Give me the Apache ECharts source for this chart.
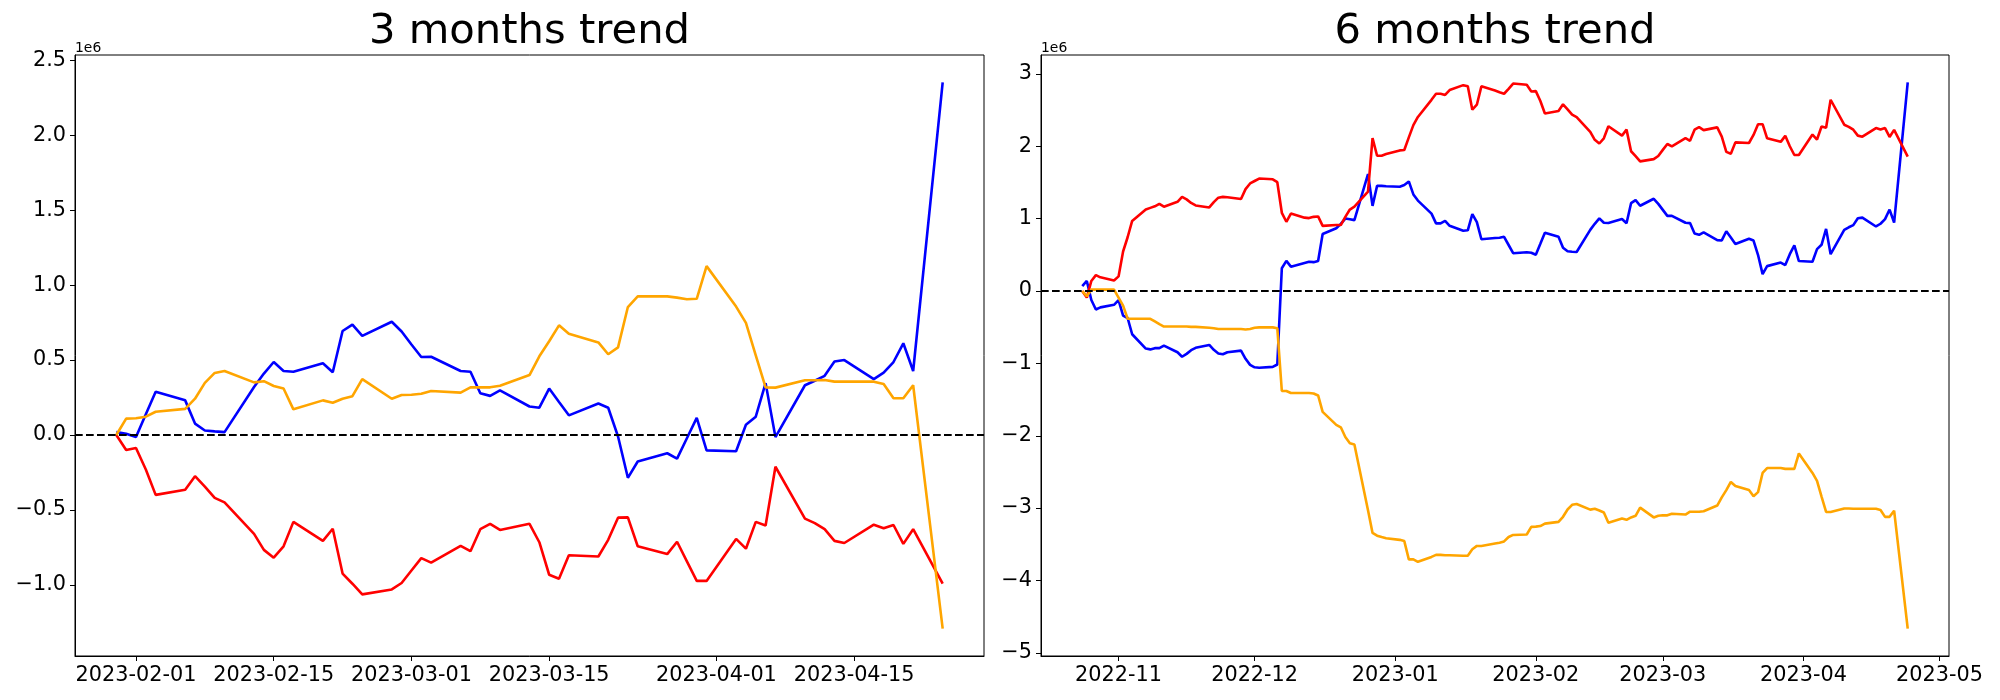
<!DOCTYPE html>
<html>
<head>
<meta charset="utf-8">
<script src="https://cdn.jsdelivr.net/npm/echarts@6/dist/echarts.min.js"></script>
<style>
html,body{margin:0;padding:0;background:#fff;}
#chart{width:2000px;height:700px;}
</style>
</head>
<body>
<div id="chart"></div>
<script>
// ---------------- DATA (values in units of 1e6) ----------------
const titles = ['3 months trend', '6 months trend'];
const range3m = ['2023-01-30', '2023-04-24'];   // business days
const range6m = ['2022-10-24', '2023-04-24'];   // business days

const blue3m = [0.019,0.008,-0.014,0.139,0.288, 0.231,0.076,0.030,0.024,0.019,
  0.32,0.41,0.487,0.427,0.422, 0.479,0.419,0.694,0.737,0.661,
  0.756,0.691,0.604,0.52,0.522, 0.427,0.422,0.278,0.261,0.297,
  0.19,0.182,0.31,0.22,0.131, 0.21,0.182,-0.01,-0.286,-0.177,
  -0.122,-0.158,-0.022,0.114,-0.103, -0.109,0.068,0.122,0.346,-0.014,
  0.332,0.362,0.395,0.49,0.50, 0.373,0.416,0.487,0.612,0.427,
  2.354];
const red3m = [0,-0.10,-0.087,-0.23,-0.40, -0.365,-0.275,-0.345,-0.42,-0.45,
  -0.66,-0.767,-0.819,-0.743,-0.58, -0.707,-0.626,-0.925,-0.993,-1.064,
  -1.031,-0.988,-0.905,-0.822,-0.852, -0.74,-0.776,-0.629,-0.593,-0.634,
  -0.593,-0.716,-0.933,-0.96,-0.803, -0.811,-0.70,-0.552,-0.55,-0.743,
  -0.795,-0.713,-0.844,-0.974,-0.974, -0.694,-0.759,-0.58,-0.604,-0.212,
  -0.558,-0.588,-0.629,-0.707,-0.721, -0.599,-0.623,-0.601,-0.727,-0.629,
  -0.993];
const orange3m = [0,0.109,0.112,0.122,0.155, 0.174,0.242,0.348,0.414,0.427,
  0.351,0.359,0.327,0.31,0.171, 0.231,0.215,0.242,0.259,0.373,
  0.242,0.267,0.269,0.275,0.294, 0.283,0.318,0.318,0.318,0.329,
  0.40,0.525,0.626,0.732,0.675, 0.618,0.539,0.585,0.854,0.925,
  0.925,0.917,0.906,0.909,1.127, 0.857,0.748,0.531,0.318,0.316,
  0.365,0.365,0.367,0.356,0.356, 0.356,0.34,0.245,0.245,0.332,
  -1.293];

const blue6m = [0.068,0.14,-0.124,-0.254,-0.225, -0.19,-0.124,-0.338,-0.372,-0.597,
  -0.795,-0.806,-0.789,-0.789,-0.755, -0.846,-0.908,-0.868,-0.817,-0.784,
  -0.744,-0.812,-0.862,-0.874,-0.846, -0.823,-0.936,-1.02,-1.054,-1.06,
  -1.048,-1.015,0.316,0.417,0.338, 0.389,0.406,0.40,0.417,0.789,
  0.868,0.93,1.003,0.992,0.981, 1.618,1.178,1.454,1.454,1.449,
  1.443,1.466,1.516,1.336,1.251, 1.071,0.936,0.936,0.97,0.902,
  0.834,0.84,1.065,0.953,0.716, 0.733,0.738,0.75,0.637,0.524,
  0.536,0.53,0.503,0.655,0.808, 0.75,0.598,0.55,0.544,0.54,
  0.846,0.93,1.006,0.945,0.942, 0.996,0.938,1.215,1.258,1.18,
  1.276,1.206,1.123,1.04,1.04, 0.945,0.94,0.795,0.778,0.812,
  0.705,0.70,0.827,0.74,0.65, 0.724,0.699,0.498,0.234,0.345,
  0.395,0.36,0.51,0.631,0.415, 0.406,0.58,0.64,0.86,0.51,
  0.847,0.882,0.912,1.008,1.015, 0.893,0.931,0.995,1.127,0.948,
  2.886];
const red6m = [0,-0.09,0.14,0.22,0.19, 0.147,0.203,0.547,0.744,0.97,
  1.127,1.15,1.172,1.206,1.167, 1.234,1.302,1.268,1.218,1.184,
  1.156,1.229,1.291,1.302,1.297, 1.274,1.409,1.488,1.522,1.556,
  1.545,1.505,1.082,0.958,1.071, 1.015,1.009,1.026,1.032,0.902,
  0.913,0.913,1.026,1.127,1.167, 1.375,2.114,1.871,1.871,1.894,
  1.945,1.95,2.125,2.294,2.407, 2.644,2.728,2.728,2.711,2.779,
  2.847,2.83,2.508,2.576,2.83, 2.773,2.75,2.728,2.796,2.869,
  2.852,2.76,2.764,2.627,2.455, 2.49,2.582,2.513,2.439,2.405,
  2.201,2.091,2.04,2.112,2.278, 2.149,2.232,1.933,1.865,1.793,
  1.824,1.868,1.952,2.033,2.0, 2.113,2.078,2.231,2.266,2.225,
  2.263,2.136,1.924,1.899,2.056, 2.047,2.159,2.306,2.307,2.112,
  2.063,2.146,2.002,1.881,1.881, 2.164,2.095,2.275,2.257,2.645,
  2.30,2.271,2.231,2.149,2.134, 2.254,2.234,2.253,2.131,2.228,
  1.86];
const orange6m = [0,-0.07,0.02,0.02,0.02, 0.02,-0.09,-0.2,-0.383,-0.383,
  -0.383,-0.383,-0.42,-0.457,-0.49, -0.49,-0.49,-0.49,-0.495,-0.495,
  -0.507,-0.513,-0.524,-0.524,-0.524, -0.524,-0.53,-0.524,-0.507,-0.502,
  -0.502,-0.513,-1.381,-1.381,-1.409, -1.409,-1.409,-1.415,-1.443,-1.669,
  -1.849,-1.883,-2.018,-2.103,-2.12, -3.03,-3.343,-3.382,-3.40,-3.416,
  -3.439,-3.456,-3.709,-3.709,-3.743, -3.675,-3.647,-3.647,-3.652,-3.652,
  -3.658,-3.658,-3.568,-3.523,-3.523, -3.489,-3.478,-3.461,-3.40,-3.371,
  -3.365,-3.26,-3.256,-3.248,-3.215, -3.19,-3.12,-3.019,-2.955,-2.943,
  -3.021,-3.01,-3.033,-3.061,-3.202, -3.145,-3.162,-3.129,-3.106,-2.993,
  -3.129,-3.106,-3.10,-3.10,-3.078, -3.089,-3.05,-3.05,-3.05,-3.044,
  -2.965,-2.852,-2.751,-2.638,-2.694, -2.751,-2.835,-2.779,-2.514,-2.446,
  -2.446,-2.458,-2.458,-2.458,-2.244, -2.514,-2.623,-2.84,-3.053,-3.055,
  -3.005,-3.005,-3.01,-3.01,-3.01, -3.01,-3.026,-3.121,-3.121,-3.036,
  -4.667];

const xTicks3m = ['2023-02-01','2023-02-15','2023-03-01','2023-03-15','2023-04-01','2023-04-15'];
const xTicks6m = ['2022-11-01','2022-12-01','2023-01-01','2023-02-01','2023-03-01','2023-04-01','2023-05-01'];
const yTicks3m = [-1.0,-0.5,0,0.5,1.0,1.5,2.0,2.5];
const yTicks6m = [-5,-4,-3,-2,-1,0,1,2,3];
const offsetLabel = '1e6';

// ---------------- helpers ----------------
const DAY = 86400000;
function businessDays(a, b) {
  const out = []; let t = Date.parse(a); const e = Date.parse(b);
  while (t <= e) { const w = new Date(t).getUTCDay(); if (w > 0 && w < 6) out.push(t); t += DAY; }
  return out;
}
const dates3m = businessDays(range3m[0], range3m[1]);
const dates6m = businessDays(range6m[0], range6m[1]);
const pad = n => (n < 10 ? '0' : '') + n;
const fmtDay = v => { const d = new Date(v); return d.getUTCFullYear() + '-' + pad(d.getUTCMonth() + 1) + '-' + pad(d.getUTCDate()); };
const fmtMonth = v => { const d = new Date(v); return d.getUTCFullYear() + '-' + pad(d.getUTCMonth() + 1); };
const minus = s => s.replace('-', '\u2212');
function limits(arrs) {
  const all = [].concat(...arrs); const lo = Math.min(...all), hi = Math.max(...all); const m = (hi - lo) * 0.05;
  return [lo - m, hi + m];
}
function xlimits(d) { const m = (d[d.length - 1] - d[0]) * 0.05; return [d[0] - m, d[d.length - 1] + m]; }
const pairs = (d, v) => d.map((t, i) => [t, v[i]]);

const FONT = 'DejaVu Sans';
const L = { left: 75, right: 2000 - 984, top: 55, bottom: 700 - 656 };
const R = { left: 1041, right: 2000 - 1949, top: 55, bottom: 700 - 656 };
const yl3 = limits([blue3m, red3m, orange3m]);
const yl6 = limits([blue6m, red6m, orange6m]);
const xl3 = xlimits(dates3m);
const xl6 = xlimits(dates6m);

function xAxis(gi, lim, ticks, fmt) {
  const vals = ticks.map(t => Date.parse(t));
  return {
    type: 'value', gridIndex: gi, min: lim[0], max: lim[1], scale: true,
    axisLine: { show: true, onZero: false, lineStyle: { color: '#000', width: 1 } },
    axisTick: { show: true, customValues: vals, length: 5, lineStyle: { color: '#000', width: 1 } },
    axisLabel: { customValues: vals, formatter: v => fmt(v), color: '#000', fontFamily: FONT, fontSize: 20.8, margin: 9, hideOverlap: false },
    splitLine: { show: false }
  };
}
function yAxis(gi, lim, ticks, fmt) {
  return {
    type: 'value', gridIndex: gi, min: lim[0], max: lim[1],
    axisLine: { show: true, onZero: false, lineStyle: { color: '#000', width: 1 } },
    axisTick: { show: true, customValues: ticks, length: 5, lineStyle: { color: '#000', width: 1 } },
    axisLabel: { customValues: ticks, formatter: v => fmt(v), color: '#000', fontFamily: FONT, fontSize: 20.8, margin: 9 },
    splitLine: { show: false }
  };
}
function line(xi, d, v, color, withZero) {
  const s = {
    type: 'line', xAxisIndex: xi, yAxisIndex: xi, data: pairs(d, v), showSymbol: false, symbol: 'none',
    lineStyle: { color: color, width: 2.6 }, itemStyle: { color: color }, silent: true, animation: false
  };
  if (withZero) {
    s.markLine = { silent: true, symbol: ['none', 'none'], label: { show: false }, animation: false,
      lineStyle: { color: '#000', type: [7.7, 3.3], width: 2.2 }, emphasis: { disabled: true },
      data: [{ yAxis: 0 }] };
  }
  return s;
}

const option = {
  animation: false,
  backgroundColor: '#fff',
  grid: [
    Object.assign({ show: true, borderColor: '#000', borderWidth: 1, backgroundColor: 'transparent' }, L),
    Object.assign({ show: true, borderColor: '#000', borderWidth: 1, backgroundColor: 'transparent' }, R)
  ],
  xAxis: [xAxis(0, xl3, xTicks3m, fmtDay), xAxis(1, xl6, xTicks6m, fmtMonth)],
  yAxis: [
    yAxis(0, yl3, yTicks3m, v => minus(v.toFixed(1))),
    yAxis(1, yl6, yTicks6m, v => minus(v.toFixed(0)))
  ],
  series: [
    line(0, dates3m, blue3m, '#0000ff', false),
    line(0, dates3m, red3m, '#ff0000', false),
    line(0, dates3m, orange3m, '#ffa500', true),
    line(1, dates6m, blue6m, '#0000ff', false),
    line(1, dates6m, red6m, '#ff0000', false),
    line(1, dates6m, orange6m, '#ffa500', true)
  ],
  graphic: [
    { type: 'text', x: (75 + 984) / 2, y: 32, style: { text: titles[0], fontFamily: FONT, fontSize: 41.7, fill: '#000', align: 'center', verticalAlign: 'middle' } },
    { type: 'text', x: (1041 + 1949) / 2, y: 32, style: { text: titles[1], fontFamily: FONT, fontSize: 41.7, fill: '#000', align: 'center', verticalAlign: 'middle' } },
    { type: 'text', x: 75, y: 55, style: { text: offsetLabel, fontFamily: FONT, fontSize: 13.9, fill: '#000', align: 'left', verticalAlign: 'bottom' } },
    { type: 'text', x: 1041, y: 55, style: { text: offsetLabel, fontFamily: FONT, fontSize: 13.9, fill: '#000', align: 'left', verticalAlign: 'bottom' } }
  ]
};
const chart = echarts.init(document.getElementById('chart'), null, { renderer: 'canvas' });
chart.setOption(option);
</script>
</body>
</html>
